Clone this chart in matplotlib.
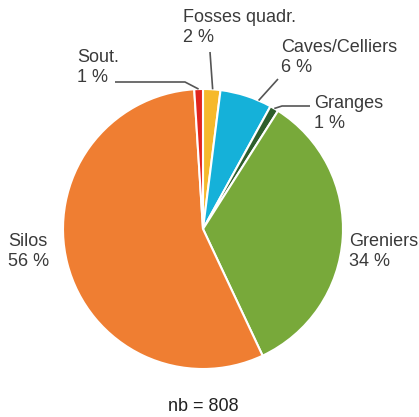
import matplotlib.pyplot as plt
import numpy as np

plt.rcParams['font.family'] = ['Liberation Sans', 'DejaVu Sans']

# data (share of structures, %)
categories = ['Fosses quadr.', 'Caves/Celliers', 'Granges', 'Greniers', 'Silos', 'Sout.']
shares = [2, 6, 1, 34, 56, 1]
colors = ['#F6B92C', '#15B1D9', '#2E5E2C', '#78A93A', '#EF7E32', '#E1251F']
total_n = 808

W, H = 419, 417
fig = plt.figure(figsize=(W / 100, H / 100), dpi=100)
ax = fig.add_axes([0, 0, 1, 1])
ax.set_xlim(0, W)
ax.set_ylim(0, H)
ax.set_aspect('equal')
ax.axis('off')


def px(x, y):
    # pixel coords (origin top-left) -> data coords
    return x, H - y


center = px(203, 229)
radius = 140
wedges, _ = ax.pie(shares, colors=colors, startangle=90, counterclock=False,
                   center=center, radius=radius,
                   wedgeprops=dict(edgecolor='white', linewidth=1.5))
ax.set_xlim(0, W)
ax.set_ylim(0, H)

text_kw = dict(fontsize=13, color='#3A3A3A', ha='left', va='top', linespacing=1.22)

# label position (top-left, pixels), where the leader line touches the wedge (0..1 across it), elbow
label_pos = [(183, 9), (281, 39), (314, 95), (349, 233), (8, 233), (77, 49)]
anchor_frac = [0.55, 0.75, 0.5, None, None, 0.5]
elbows = [(210, 52), (278, 79), (282, 106), None, None, (185, 82)]
line_starts = [(210, 52), (278, 79), (310, 106), None, None, (115, 82)]

cum = np.cumsum([0] + shares)
for i, name in enumerate(categories):
    lx, ly = px(*label_pos[i])
    ax.text(lx, ly, f'{name}\n{shares[i]} %', **text_kw)
    if anchor_frac[i] is None:
        continue
    frac = (cum[i] + anchor_frac[i] * shares[i]) / 100
    ang = np.deg2rad(90 - 360 * frac)
    ex = center[0] + radius * np.cos(ang)
    ey = center[1] + radius * np.sin(ang)
    sx, sy = px(*line_starts[i])
    bx, by = px(*elbows[i])
    ax.plot([sx, bx, ex], [sy, by, ey], color='#555555', lw=1.2,
            solid_capstyle='butt')

nx, ny = px(203, 398)
ax.text(nx, ny, f'nb = {total_n}', fontsize=13, color='#202020', ha='center', va='top')

fig.savefig('out.png', dpi=100)
